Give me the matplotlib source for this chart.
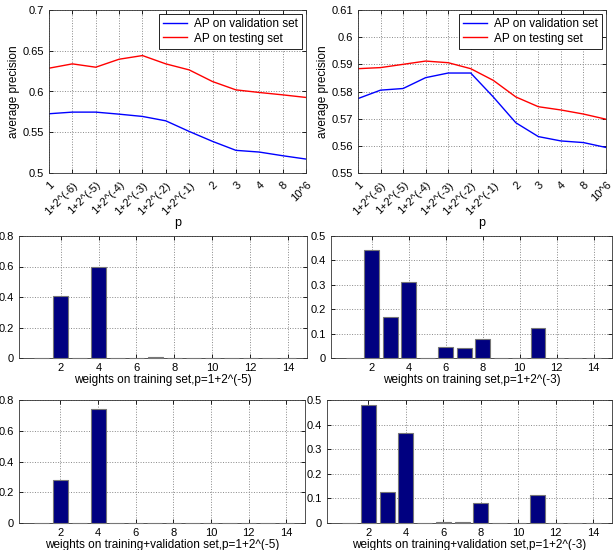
import matplotlib
matplotlib.use("Agg")
import matplotlib.pyplot as plt
import numpy as np

plt.rcParams['font.family'] = ['Liberation Sans', 'DejaVu Sans']
plt.rcParams['font.size'] = 8

p_labels = ['1', '1+2^(-6)', '1+2^(-5)', '1+2^(-4)', '1+2^(-3)', '1+2^(-2)', '1+2^(-1)',
            '2', '3', '4', '8', '10^6']

left_val = [0.5727, 0.5747, 0.5747, 0.5722, 0.5694, 0.5640, 0.5510, 0.5388, 0.5278, 0.5257, 0.5212, 0.5171]
left_test = [0.6286, 0.6339, 0.6298, 0.6396, 0.6441, 0.6339, 0.6265, 0.6122, 0.6020, 0.5988, 0.5959, 0.5927]

right_val = [0.5774, 0.5805, 0.5811, 0.5851, 0.5868, 0.5868, 0.5780, 0.5685, 0.5634, 0.5618, 0.5612, 0.5594]
right_test = [0.5884, 0.5888, 0.5900, 0.5912, 0.5906, 0.5884, 0.5841, 0.5780, 0.5744, 0.5732, 0.5717, 0.5698]

w_train_5 = [0.002, 0.405, 0.002, 0.600, 0.002, 0.002, 0.005, 0.002, 0.002, 0.002, 0.002, 0.002, 0.002, 0.002]
w_train_3 = [0.002, 0.444, 0.168, 0.312, 0.002, 0.045, 0.041, 0.076, 0.002, 0.002, 0.122, 0.002, 0.002, 0.002]
w_trval_5 = [0.002, 0.278, 0.002, 0.741, 0.002, 0.002, 0.002, 0.002, 0.002, 0.002, 0.002, 0.002, 0.002, 0.002]
w_trval_3 = [0.002, 0.481, 0.124, 0.367, 0.002, 0.005, 0.004, 0.080, 0.002, 0.002, 0.115, 0.002, 0.002, 0.002]

W, H = 615, 550
fig = plt.figure(figsize=(W/100, H/100), dpi=100)

def ax_px(l, t, r, b):
    return fig.add_axes([l/W, 1 - b/H, (r-l)/W, (b-t)/H])

def style(ax):
    ax.grid(True, linestyle=':', color='#888888', linewidth=0.7)
    ax.tick_params(direction='in', length=3, width=0.6, top=True, right=True, labelsize=8)
    for s in ax.spines.values():
        s.set_linewidth(0.6)
        s.set_color('#333333')

def line_plot(ax, val, test, ylim, yticks, ylabelfmt):
    x = np.arange(1, len(p_labels)+1)
    ax.plot(x, val, color='blue', lw=1.0, label='AP on validation set')
    ax.plot(x, test, color='red', lw=1.0, label='AP on testing set')
    ax.set_xlim(1, 12)
    ax.set_ylim(*ylim)
    ax.set_yticks(yticks)
    ax.set_yticklabels([ylabelfmt(v) for v in yticks])
    ax.set_xticks(x)
    ax.set_xticklabels(p_labels, rotation=45, ha='right', va='top', rotation_mode='anchor')
    ax.tick_params(axis='x', pad=5)
    ax.set_xlabel('p', labelpad=0, fontsize=9)
    ax.set_ylabel('average precision', fontsize=8.5, labelpad=2)
    style(ax)
    leg = ax.legend(loc='upper right', fontsize=8.5, fancybox=False, framealpha=1,
                    borderpad=0.35, handlelength=2.0, handletextpad=0.6, labelspacing=0.2,
                    borderaxespad=0.35)
    leg.get_frame().set_edgecolor('black')
    leg.get_frame().set_linewidth(0.6)

def fmt(v):
    s = ('%.3f' % v).rstrip('0').rstrip('.')
    return s

ax1 = ax_px(49, 10, 306, 173)
line_plot(ax1, left_val, left_test, (0.5, 0.7), [0.5, 0.55, 0.6, 0.65, 0.7], fmt)
ax2 = ax_px(358, 10, 606, 173)
line_plot(ax2, right_val, right_test, (0.55, 0.61), [0.55, 0.56, 0.57, 0.58, 0.59, 0.6, 0.61], fmt)

def bar_plot(ax, w, ylim, yticks, xlabel):
    x = np.arange(1, len(w)+1)
    bars = ax.bar(x, w, width=0.8, color='#000080', edgecolor='#777777', linewidth=0.8, zorder=3)
    for b in bars:
        b.set_clip_on(False)
    ax.set_xlim(-0.2, 15)
    ax.set_ylim(*ylim)
    ax.set_yticks(yticks)
    ax.set_yticklabels([fmt(v) for v in yticks])
    ax.set_xticks([2, 4, 6, 8, 10, 12, 14])
    ax.set_xlabel(xlabel, fontsize=8.5, labelpad=1)
    style(ax)

ax3 = ax_px(19, 236, 307, 358)
bar_plot(ax3, w_train_5, (0, 0.8), [0, 0.2, 0.4, 0.6, 0.8], 'weights on training set,p=1+2^(-5)')
ax4 = ax_px(331, 236, 612, 358)
bar_plot(ax4, w_train_3, (0, 0.5), [0, 0.1, 0.2, 0.3, 0.4, 0.5], 'weights on training set,p=1+2^(-3)')
ax5 = ax_px(19, 400, 305, 523)
bar_plot(ax5, w_trval_5, (0, 0.8), [0, 0.2, 0.4, 0.6, 0.8], 'weights on training+validation set,p=1+2^(-5)')
ax6 = ax_px(327, 400, 612, 523)
bar_plot(ax6, w_trval_3, (0, 0.5), [0, 0.1, 0.2, 0.3, 0.4, 0.5], 'weights on training+validation set,p=1+2^(-3)')

fig.savefig('out.png', dpi=100)
